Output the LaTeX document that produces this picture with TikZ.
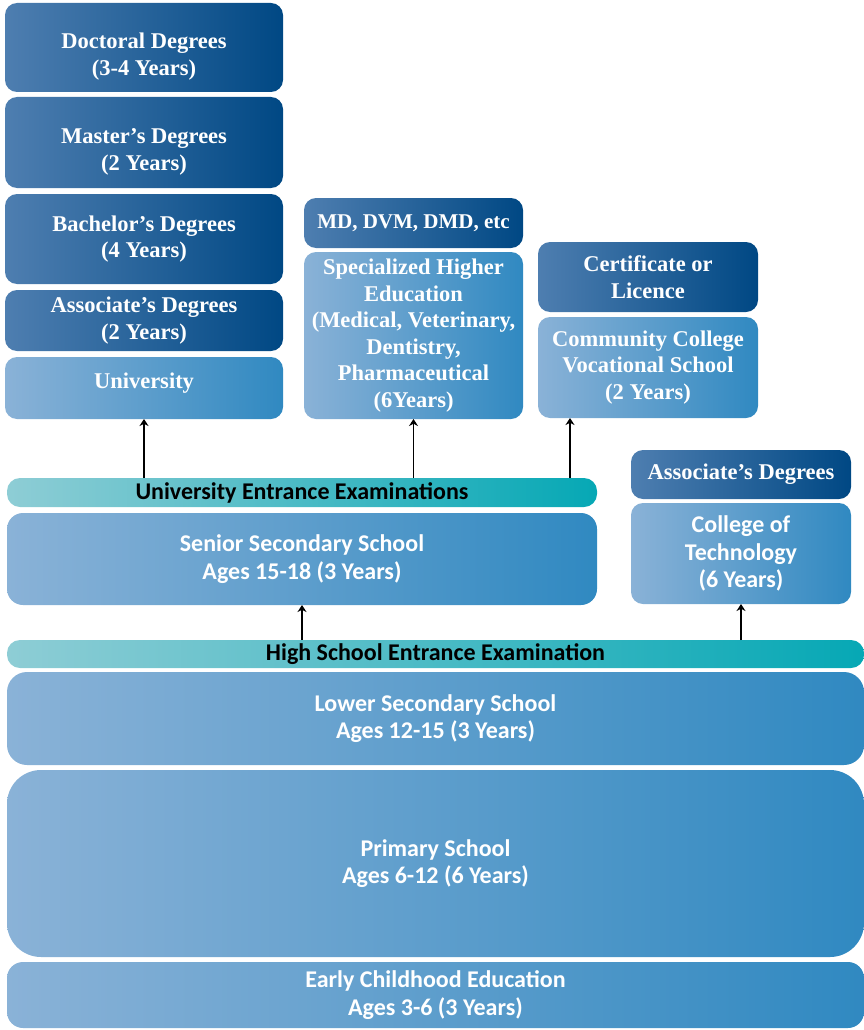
\documentclass[tikz,border=0pt]{standalone}
\usepackage{fontspec}
\setmainfont{Liberation Serif}
\newfontfamily\condfont{Carlito}
\usepackage{tikz}
\usetikzlibrary{calc}
\usetikzlibrary{positioning}
\usetikzlibrary{arrows.meta}

\begin{document}
\begin{tikzpicture}[x=1pt, y=-1pt, >={Stealth[length=7pt, width=9pt]},
    box/.style={rounded corners=12pt, inner sep=0pt, outer sep=0pt, align=center,
      text=white, font=\bfseries\fontsize{22.5}{26.5}\selectfont},
    darkbox/.style={box, left color=darkL, right color=darkR},
    lightbox/.style={box, left color=lightL, right color=lightR},
    schoolbox/.style={lightbox, font=\condfont\bfseries\fontsize{24}{27.5}\selectfont},
    exambar/.style={box, rounded corners=13pt, left color=tealL, right color=tealR,
      text=black, font=\condfont\bfseries\fontsize{24}{26}\selectfont},
    uparrow/.style={->, line width=1.2pt}]
      % Define colors
      \definecolor{darkL}{RGB}{78,126,176}
      \definecolor{darkR}{RGB}{0,72,132}
      \definecolor{lightL}{RGB}{138,178,215}
      \definecolor{lightR}{RGB}{48,137,193}
      \definecolor{tealL}{RGB}{142,205,213}
      \definecolor{tealR}{RGB}{6,168,181}

      \useasboundingbox (0,0) rectangle (864,1030);

      % University column
      \node[darkbox, minimum width=278pt, minimum height=89pt] (doct) at (144,47.5) {\rule{0pt}{34pt}Doctoral Degrees\\(3-4 Years)};
      \node[darkbox, minimum width=278pt, minimum height=91pt] (mast) at (144,142.5) {\rule{0pt}{34pt}Master’s Degrees\\(2 Years)};
      \node[darkbox, minimum width=278pt, minimum height=90pt] (bach) at (144,239) {Bachelor’s Degrees\\(4 Years)};
      \node[darkbox, minimum width=278pt, minimum height=61pt] (assoc) at (144,320.5) {Associate’s Degrees\\(2 Years)};
      \node[lightbox, minimum width=278pt, minimum height=62pt] (univ) at (144,388) {\rule[-15pt]{0pt}{15pt}University};

      % Specialized column
      \node[darkbox, minimum width=219pt, minimum height=50pt, font=\bfseries\fontsize{21}{26}\selectfont] (md) at (413.5,223) {MD, DVM, DMD, etc};
      \node[lightbox, minimum width=219pt, minimum height=167pt] (spec) at (413.5,335.5)
        {Specialized Higher\\Education\\(Medical, Veterinary,\\Dentistry,\\Pharmaceutical\\(6Years)};

      % Vocational column
      \node[darkbox, minimum width=220pt, minimum height=70pt] (cert) at (648,277) {Certificate or\\Licence};
      \node[lightbox, minimum width=220pt, minimum height=101pt] (comm) at (648,367.5)
        {Community College\\Vocational School\\(2 Years)};

      % College of technology column
      \node[darkbox, minimum width=220pt, minimum height=49pt] (assocT) at (741,474.5) {Associate’s Degrees};
      \node[schoolbox, minimum width=220pt, minimum height=101pt] (tech) at (741,553.5)
        {College of\\Technology\\(6 Years)};

      % Entrance exams and schools
      \node[exambar, minimum width=590pt, minimum height=29pt] (uee) at (302,492.5) {University Entrance Examinations};
      \node[schoolbox, rounded corners=16pt, minimum width=590pt, minimum height=92pt] (senior) at (302,559)
        {Senior Secondary School\\Ages 15-18 (3 Years)};
      \node[exambar, minimum width=857pt, minimum height=28pt] (hsee) at (435.5,654) {High School Entrance Examination};
      \node[schoolbox, rounded corners=20pt, minimum width=857pt, minimum height=93pt] (lower) at (435.5,718.5)
        {Lower Secondary School\\Ages 12-15 (3 Years)};
      \node[schoolbox, rounded corners=34pt, minimum width=857pt, minimum height=187pt] (primary) at (435.5,863.5)
        {Primary School\\Ages 6-12 (6 Years)};
      \node[schoolbox, rounded corners=16pt, minimum width=857pt, minimum height=66pt] (early) at (435.5,995)
        {Early Childhood Education\\Ages 3-6 (3 Years)};

      % Arrows
      \draw[uparrow] (uee.north -| univ.south) -- (univ.south);
      \draw[uparrow] (uee.north -| spec.south) -- (spec.south);
      \draw[uparrow] ([xshift=32pt]comm.south west |- uee.north) -- ([xshift=32pt]comm.south west);
      \draw[uparrow] (hsee.north -| senior.south) -- (senior.south);
      \draw[uparrow] (hsee.north -| tech.south) -- (tech.south);
\end{tikzpicture}
\end{document}
